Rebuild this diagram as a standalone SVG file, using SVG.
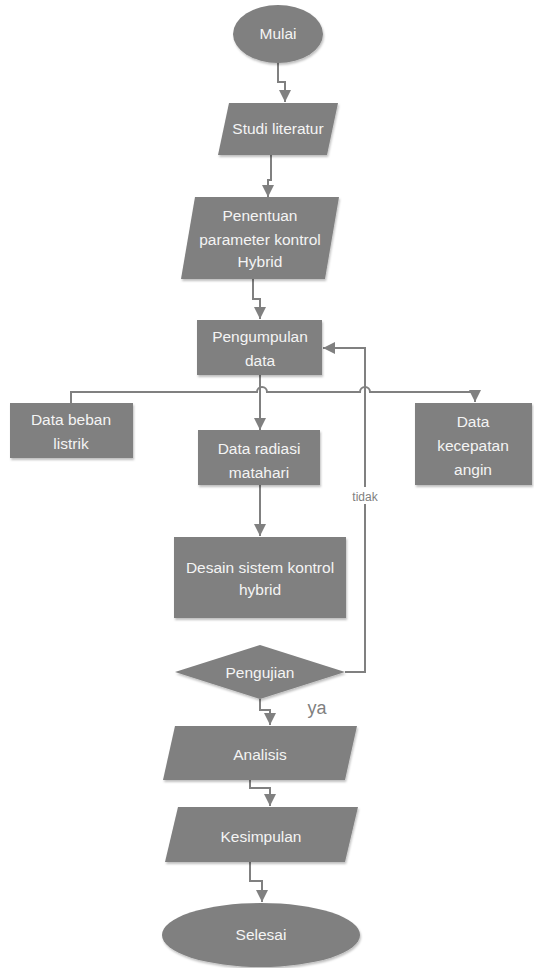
<svg xmlns="http://www.w3.org/2000/svg" width="534" height="968" viewBox="0 0 534 968">
<style>
.s{fill:#808080;filter:url(#sh)}
.t{font-family:"Liberation Sans",Arial,sans-serif;font-size:15.5px;fill:#f4f4f4;text-anchor:middle}
.c{fill:none;stroke:#808080;stroke-width:2}
.a{marker-end:url(#ar)}
.l{font-family:"Liberation Sans",Arial,sans-serif;fill:#808080;text-anchor:middle}
</style>
<defs>
<marker id="ar" viewBox="0 0 12 12" refX="12" refY="6" markerWidth="12" markerHeight="12" markerUnits="userSpaceOnUse" orient="auto">
<path d="M0,0 L12,6 L0,12 Z" fill="#808080"/>
</marker>
<filter id="sh" x="-10%" y="-10%" width="125%" height="130%">
<feDropShadow dx="1" dy="2" stdDeviation="1.2" flood-color="#000" flood-opacity="0.25"/>
</filter>
</defs>
<g id="connectors">
<polyline class="c a" points="278,63 278,82 285,82 285,102"/>
<polyline class="c a" points="271,155 271,180 268,180 268,197"/>
<polyline class="c a" points="253,279 253,299 260,299 260,319"/>
<polyline class="c a" points="260,375 260,430"/>
<path class="c" d="M71,403 L71,392 L257,392 A5,5 0 0 1 267,392 L360,392 A5,5 0 0 1 370,392 L475,392 L475,402" marker-end="url(#ar)"/>
<polyline class="c a" points="260,485 260,536"/>
<polyline class="c a" points="345,672 365,672 365,348 323,348"/>
<polyline class="c a" points="260,699 260,710 270,710 270,725"/>
<polyline class="c a" points="250,780 250,788 270,788 270,806"/>
<polyline class="c a" points="250,862 250,881 262,881 262,902"/>
<rect x="351" y="487" width="28" height="17" fill="#fff"/>
<text class="l" x="365" y="501" font-size="12">tidak</text>
<text class="l" x="317" y="714" font-size="18">ya</text>
</g>
<g id="mulai">
<ellipse class="s" cx="278" cy="34" rx="45" ry="29"/>
<text class="t" x="278" y="39">Mulai</text>
</g>
<g id="studi">
<polygon class="s" points="229,103 338,103 327,155 218,155"/>
<text class="t" x="278" y="134">Studi literatur</text>
</g>
<g id="penentuan">
<polygon class="s" points="195,197 339,197 325,279 181,279"/>
<text class="t" x="260" y="221">Penentuan</text>
<text class="t" x="260" y="245">parameter kontrol</text>
<text class="t" x="260" y="267">Hybrid</text>
</g>
<g id="pengumpulan">
<rect class="s" x="197" y="320" width="125" height="55"/>
<text class="t" x="260" y="342">Pengumpulan</text>
<text class="t" x="260" y="366">data</text>
</g>
<g id="beban">
<rect class="s" x="10" y="403" width="123" height="55"/>
<text class="t" x="71" y="425">Data beban</text>
<text class="t" x="71" y="449">listrik</text>
</g>
<g id="radiasi">
<rect class="s" x="198" y="430" width="122" height="55"/>
<text class="t" x="259" y="454">Data radiasi</text>
<text class="t" x="259" y="478">matahari</text>
</g>
<g id="kecepatan">
<rect class="s" x="415" y="403" width="117" height="82"/>
<text class="t" x="473" y="427">Data</text>
<text class="t" x="473" y="451">kecepatan</text>
<text class="t" x="473" y="475">angin</text>
</g>
<g id="desain">
<rect class="s" x="174" y="537" width="172" height="81"/>
<text class="t" x="260" y="573">Desain sistem kontrol</text>
<text class="t" x="260" y="595">hybrid</text>
</g>
<g id="pengujian">
<polygon class="s" points="260,645 345,672 260,699 175,672"/>
<text class="t" x="260" y="678">Pengujian</text>
</g>
<g id="analisis">
<polygon class="s" points="175,726 357,726 345,780 163,780"/>
<text class="t" x="260" y="760">Analisis</text>
</g>
<g id="kesimpulan">
<polygon class="s" points="178,807 358,807 345,862 165,862"/>
<text class="t" x="261" y="842">Kesimpulan</text>
</g>
<g id="selesai">
<ellipse class="s" cx="261" cy="935" rx="99" ry="32"/>
<text class="t" x="261" y="940">Selesai</text>
</g>
</svg>
